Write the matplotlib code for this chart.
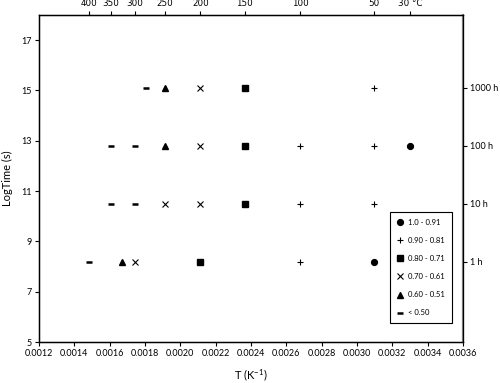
import numpy as np
import matplotlib
matplotlib.use("Agg")
import matplotlib.pyplot as plt

plt.rcParams['font.family'] = ['Lato', 'DejaVu Sans']

# temperatures (deg C) and times (h) for each retention class
circ_T = [30, 50]
circ_h = [100, 1]
plus_T = [50, 100, 50, 100, 50, 100]
plus_h = [1000, 100, 100, 10, 10, 1]
sq_T = [150, 150, 150, 200]
sq_h = [1000, 100, 10, 1]
x_T = [200, 200, 250, 200, 300]
x_h = [1000, 100, 10, 10, 1]
tri_T = [250, 250, 325]
tri_h = [1000, 100, 1]
dash_T = [280, 350, 300, 350, 300, 400]
dash_h = [1000, 100, 100, 10, 10, 1]

labels = ['1.0 - 0.91', '0.90 - 0.81', '0.80 - 0.71', '0.70 - 0.61', '0.60 - 0.51', '< 0.50']

top_T = [400, 350, 300, 250, 200, 150, 100, 50, 30]
top_lbl = ['400', '350', '300', '250', '200', '150', '100', '50', '30 °C']
right_h = [1, 10, 100, 1000]
right_lbl = ['1 h', '10 h', '100 h', '1000 h']


def invT(t):
    return 1.0 / (np.array(t) + 273.15)


def lnt(h):
    return np.log(np.array(h) * 3600.0)


fig = plt.figure(figsize=(5, 3.83), dpi=100)
ax = fig.add_axes([0.078, 0.107, 0.848, 0.854])

series = [
    (circ_T, circ_h, dict(marker='o', ms=4.2)),
    (plus_T, plus_h, dict(marker='+', ms=5, mew=0.8)),
    (sq_T, sq_h, dict(marker='s', ms=4)),
    (x_T, x_h, dict(marker='x', ms=4.5, mew=0.8)),
    (tri_T, tri_h, dict(marker='^', ms=4.2)),
    (dash_T, dash_h, dict(marker='_', ms=5, mew=1.8)),
]
for (t, h, st), lb in zip(series, labels):
    ax.plot(invT(t), lnt(h), ls='none', color='black', label=lb, **st)

ax.set_xlim(0.0012, 0.0036)
ax.set_ylim(5, 18)
ax.set_xticks(np.arange(0.0012, 0.00361, 0.0002))
ax.set_xticklabels(['%.4f' % v for v in np.arange(0.0012, 0.00361, 0.0002)])
ax.set_yticks([5, 7, 9, 11, 13, 15, 17])
ax.tick_params(labelsize=6.5, length=3, width=0.8, direction='out', pad=2)
ax.set_xlabel('T (K$^{\\mathregular{-1}}$)', fontsize=8, labelpad=7)
ax.set_ylabel('LogTime (s)', fontsize=8, labelpad=6)
for s in ax.spines.values():
    s.set_linewidth(1.0)
    s.set_color('#333333')
ax.spines['right'].set_color('#888888')
ax.spines['right'].set_linewidth(1.6)

axt = ax.twiny()
axt.set_xlim(ax.get_xlim())
axt.set_xticks(invT(top_T))
axt.set_xticklabels(top_lbl, family='DejaVu Sans')
axt.tick_params(labelsize=6.3, length=3, width=0.8, pad=2)

axr = ax.twinx()
axr.set_ylim(ax.get_ylim())
axr.set_yticks(lnt(right_h))
axr.set_yticklabels(right_lbl)
axr.tick_params(labelsize=6.5, length=3, width=0.8, pad=2)

leg = ax.legend(loc='lower right', bbox_to_anchor=(0.983, 0.046), fontsize=5.5,
                frameon=True, fancybox=False, edgecolor='black', framealpha=1,
                labelspacing=1.45, handlelength=0.9, handletextpad=0.6,
                borderpad=0.9, numpoints=1)
leg.get_frame().set_linewidth(0.8)

fig.savefig('out.png', dpi=100)
